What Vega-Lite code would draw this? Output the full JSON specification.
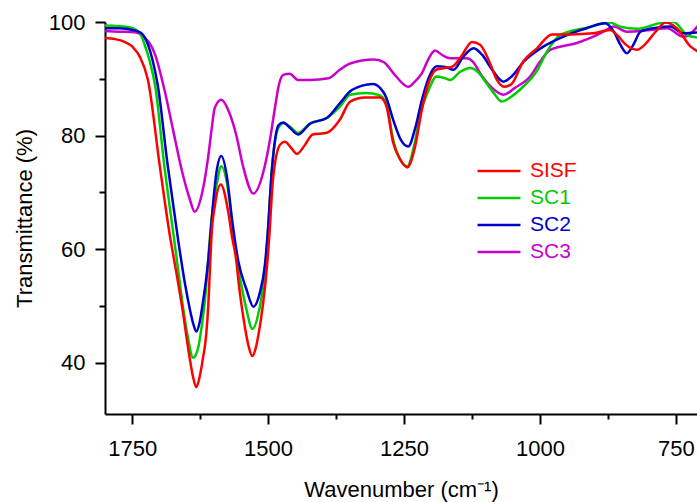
{
  "$schema": "https://vega.github.io/schema/vega-lite/v6.json",
  "autosize": {"type": "none"},
  "padding": {"left": 105, "top": 22, "right": 0, "bottom": 88},
  "width": 592,
  "height": 392,
  "background": "white",
  "config": {
    "font": "Liberation Sans",
    "view": {"stroke": null},
    "axis": {
      "grid": false,
      "domainColor": "black",
      "domainWidth": 2,
      "tickColor": "black",
      "tickWidth": 2,
      "labelColor": "black",
      "labelFont": "Liberation Sans",
      "labelFontSize": 22,
      "titleFont": "Liberation Sans",
      "titleFontSize": 22,
      "titleFontWeight": "normal",
      "titleColor": "black"
    }
  },
  "datasets": {
    "spec": [
      {"s":"SC3","w":1800,"t":98.4},{"s":"SC3","w":1773,"t":98.3},{"s":"SC3","w":1745,"t":98.2},{"s":"SC3","w":1730,"t":97.5},{"s":"SC3","w":1708,"t":94.3},{"s":"SC3","w":1690,"t":87.8},{"s":"SC3","w":1675,"t":81.1},{"s":"SC3","w":1659,"t":74.0},{"s":"SC3","w":1644,"t":68.8},{"s":"SC3","w":1635,"t":66.6},{"s":"SC3","w":1620,"t":70.5},{"s":"SC3","w":1610,"t":76.4},{"s":"SC3","w":1604,"t":81.0},{"s":"SC3","w":1598,"t":84.9},{"s":"SC3","w":1586,"t":86.3},{"s":"SC3","w":1572,"t":84.2},{"s":"SC3","w":1558,"t":79.9},{"s":"SC3","w":1546,"t":74.6},{"s":"SC3","w":1527,"t":69.8},{"s":"SC3","w":1509,"t":73.5},{"s":"SC3","w":1497,"t":79.0},{"s":"SC3","w":1488,"t":84.5},{"s":"SC3","w":1480,"t":89.0},{"s":"SC3","w":1472,"t":90.7},{"s":"SC3","w":1460,"t":90.9},{"s":"SC3","w":1445,"t":89.8},{"s":"SC3","w":1423,"t":89.8},{"s":"SC3","w":1389,"t":90.1},{"s":"SC3","w":1368,"t":91.6},{"s":"SC3","w":1349,"t":92.7},{"s":"SC3","w":1306,"t":93.4},{"s":"SC3","w":1288,"t":93.0},{"s":"SC3","w":1267,"t":90.7},{"s":"SC3","w":1242,"t":88.6},{"s":"SC3","w":1230,"t":89.5},{"s":"SC3","w":1217,"t":91.0},{"s":"SC3","w":1206,"t":93.3},{"s":"SC3","w":1193,"t":95.0},{"s":"SC3","w":1180,"t":94.2},{"s":"SC3","w":1165,"t":93.6},{"s":"SC3","w":1135,"t":93.6},{"s":"SC3","w":1123,"t":93.0},{"s":"SC3","w":1110,"t":91.0},{"s":"SC3","w":1088,"t":88.4},{"s":"SC3","w":1067,"t":87.2},{"s":"SC3","w":1046,"t":88.4},{"s":"SC3","w":1018,"t":90.4},{"s":"SC3","w":1000,"t":93.0},{"s":"SC3","w":981,"t":95.1},{"s":"SC3","w":932,"t":96.3},{"s":"SC3","w":907,"t":97.2},{"s":"SC3","w":883,"t":98.3},{"s":"SC3","w":864,"t":99.2},{"s":"SC3","w":840,"t":98.3},{"s":"SC3","w":797,"t":98.6},{"s":"SC3","w":766,"t":98.9},{"s":"SC3","w":736,"t":97.4},{"s":"SC3","w":705,"t":99.8},

      {"s":"SC1","w":1800,"t":99.4},{"s":"SC1","w":1773,"t":99.3},{"s":"SC1","w":1749,"t":98.9},{"s":"SC1","w":1736,"t":98.1},{"s":"SC1","w":1727,"t":96.0},{"s":"SC1","w":1718,"t":93.2},{"s":"SC1","w":1708,"t":88.9},{"s":"SC1","w":1690,"t":74.0},{"s":"SC1","w":1676,"t":64.0},{"s":"SC1","w":1666,"t":56.8},{"s":"SC1","w":1656,"t":49.5},{"s":"SC1","w":1647,"t":44.2},{"s":"SC1","w":1638,"t":40.9},{"s":"SC1","w":1629,"t":42.5},{"s":"SC1","w":1622,"t":46.5},{"s":"SC1","w":1616,"t":51.2},{"s":"SC1","w":1612,"t":55.9},{"s":"SC1","w":1608,"t":61.0},{"s":"SC1","w":1602,"t":67.0},{"s":"SC1","w":1595,"t":71.1},{"s":"SC1","w":1586,"t":74.6},{"s":"SC1","w":1573,"t":70.0},{"s":"SC1","w":1565,"t":63.5},{"s":"SC1","w":1556,"t":57.5},{"s":"SC1","w":1540,"t":49.5},{"s":"SC1","w":1529,"t":46.0},{"s":"SC1","w":1516,"t":49.5},{"s":"SC1","w":1506,"t":55.9},{"s":"SC1","w":1501,"t":62.0},{"s":"SC1","w":1493,"t":74.0},{"s":"SC1","w":1481,"t":81.4},{"s":"SC1","w":1472,"t":82.2},{"s":"SC1","w":1460,"t":81.6},{"s":"SC1","w":1445,"t":80.5},{"s":"SC1","w":1423,"t":82.1},{"s":"SC1","w":1392,"t":83.1},{"s":"SC1","w":1368,"t":85.1},{"s":"SC1","w":1349,"t":87.2},{"s":"SC1","w":1319,"t":87.5},{"s":"SC1","w":1298,"t":87.2},{"s":"SC1","w":1283,"t":86.0},{"s":"SC1","w":1270,"t":79.3},{"s":"SC1","w":1257,"t":75.8},{"s":"SC1","w":1244,"t":74.6},{"s":"SC1","w":1231,"t":78.4},{"s":"SC1","w":1219,"t":84.2},{"s":"SC1","w":1206,"t":87.7},{"s":"SC1","w":1190,"t":90.4},{"s":"SC1","w":1178,"t":90.2},{"s":"SC1","w":1165,"t":89.8},{"s":"SC1","w":1147,"t":91.2},{"s":"SC1","w":1128,"t":91.9},{"s":"SC1","w":1114,"t":91.2},{"s":"SC1","w":1098,"t":89.2},{"s":"SC1","w":1084,"t":87.4},{"s":"SC1","w":1070,"t":86.0},{"s":"SC1","w":1055,"t":86.7},{"s":"SC1","w":1031,"t":88.6},{"s":"SC1","w":1006,"t":91.3},{"s":"SC1","w":987,"t":94.8},{"s":"SC1","w":963,"t":97.7},{"s":"SC1","w":913,"t":99.0},{"s":"SC1","w":871,"t":99.9},{"s":"SC1","w":853,"t":99.2},{"s":"SC1","w":821,"t":98.8},{"s":"SC1","w":779,"t":99.8},{"s":"SC1","w":754,"t":100},{"s":"SC1","w":729,"t":97.7},{"s":"SC1","w":705,"t":97.2},

      {"s":"SC2","w":1800,"t":98.9},{"s":"SC2","w":1773,"t":98.9},{"s":"SC2","w":1749,"t":98.6},{"s":"SC2","w":1734,"t":98.1},{"s":"SC2","w":1723,"t":96.5},{"s":"SC2","w":1712,"t":93.1},{"s":"SC2","w":1703,"t":88.9},{"s":"SC2","w":1685,"t":75.0},{"s":"SC2","w":1666,"t":62.0},{"s":"SC2","w":1653,"t":54.0},{"s":"SC2","w":1644,"t":49.5},{"s":"SC2","w":1638,"t":47.0},{"s":"SC2","w":1632,"t":45.5},{"s":"SC2","w":1626,"t":47.1},{"s":"SC2","w":1620,"t":50.6},{"s":"SC2","w":1614,"t":54.7},{"s":"SC2","w":1609,"t":59.0},{"s":"SC2","w":1606,"t":62.5},{"s":"SC2","w":1601,"t":68.2},{"s":"SC2","w":1595,"t":73.5},{"s":"SC2","w":1586,"t":76.4},{"s":"SC2","w":1575,"t":72.3},{"s":"SC2","w":1567,"t":65.8},{"s":"SC2","w":1555,"t":58.0},{"s":"SC2","w":1540,"t":53.0},{"s":"SC2","w":1527,"t":49.9},{"s":"SC2","w":1515,"t":52.4},{"s":"SC2","w":1506,"t":57.1},{"s":"SC2","w":1501,"t":62.5},{"s":"SC2","w":1493,"t":74.0},{"s":"SC2","w":1481,"t":81.8},{"s":"SC2","w":1472,"t":82.3},{"s":"SC2","w":1460,"t":81.4},{"s":"SC2","w":1445,"t":80.2},{"s":"SC2","w":1423,"t":82.1},{"s":"SC2","w":1392,"t":83.1},{"s":"SC2","w":1368,"t":85.7},{"s":"SC2","w":1349,"t":87.8},{"s":"SC2","w":1327,"t":88.8},{"s":"SC2","w":1307,"t":89.1},{"s":"SC2","w":1294,"t":88.4},{"s":"SC2","w":1283,"t":86.8},{"s":"SC2","w":1270,"t":82.8},{"s":"SC2","w":1256,"t":79.3},{"s":"SC2","w":1242,"t":78.1},{"s":"SC2","w":1230,"t":81.1},{"s":"SC2","w":1217,"t":86.3},{"s":"SC2","w":1206,"t":89.8},{"s":"SC2","w":1190,"t":92.2},{"s":"SC2","w":1174,"t":92.1},{"s":"SC2","w":1159,"t":91.6},{"s":"SC2","w":1141,"t":93.9},{"s":"SC2","w":1122,"t":95.4},{"s":"SC2","w":1106,"t":94.2},{"s":"SC2","w":1088,"t":91.6},{"s":"SC2","w":1067,"t":89.5},{"s":"SC2","w":1051,"t":90.5},{"s":"SC2","w":1030,"t":93.0},{"s":"SC2","w":993,"t":95.7},{"s":"SC2","w":950,"t":97.7},{"s":"SC2","w":914,"t":98.9},{"s":"SC2","w":880,"t":99.8},{"s":"SC2","w":864,"t":98.3},{"s":"SC2","w":852,"t":96.0},{"s":"SC2","w":840,"t":94.5},{"s":"SC2","w":828,"t":96.0},{"s":"SC2","w":815,"t":98.3},{"s":"SC2","w":785,"t":99.0},{"s":"SC2","w":760,"t":99.2},{"s":"SC2","w":736,"t":98.0},{"s":"SC2","w":705,"t":98.2},

      {"s":"SISF","w":1800,"t":97.2},{"s":"SISF","w":1782,"t":97.0},{"s":"SISF","w":1764,"t":96.5},{"s":"SISF","w":1749,"t":95.6},{"s":"SISF","w":1736,"t":93.9},{"s":"SISF","w":1721,"t":89.8},{"s":"SISF","w":1699,"t":74.5},{"s":"SISF","w":1680,"t":62.0},{"s":"SISF","w":1668,"t":55.5},{"s":"SISF","w":1656,"t":48.5},{"s":"SISF","w":1650,"t":44.5},{"s":"SISF","w":1644,"t":40.7},{"s":"SISF","w":1638,"t":37.5},{"s":"SISF","w":1632,"t":35.7},{"s":"SISF","w":1626,"t":37.5},{"s":"SISF","w":1620,"t":40.7},{"s":"SISF","w":1614,"t":44.8},{"s":"SISF","w":1610,"t":50.1},{"s":"SISF","w":1607,"t":56.5},{"s":"SISF","w":1604,"t":62.5},{"s":"SISF","w":1598,"t":67.6},{"s":"SISF","w":1587,"t":71.4},{"s":"SISF","w":1573,"t":66.4},{"s":"SISF","w":1566,"t":62.0},{"s":"SISF","w":1560,"t":59.0},{"s":"SISF","w":1552,"t":52.4},{"s":"SISF","w":1543,"t":46.5},{"s":"SISF","w":1536,"t":43.0},{"s":"SISF","w":1529,"t":41.2},{"s":"SISF","w":1523,"t":42.5},{"s":"SISF","w":1518,"t":44.8},{"s":"SISF","w":1509,"t":50.6},{"s":"SISF","w":1503,"t":55.9},{"s":"SISF","w":1498,"t":62.0},{"s":"SISF","w":1491,"t":72.3},{"s":"SISF","w":1478,"t":78.4},{"s":"SISF","w":1469,"t":78.9},{"s":"SISF","w":1458,"t":77.9},{"s":"SISF","w":1447,"t":76.8},{"s":"SISF","w":1432,"t":78.4},{"s":"SISF","w":1418,"t":80.2},{"s":"SISF","w":1392,"t":80.5},{"s":"SISF","w":1368,"t":82.8},{"s":"SISF","w":1349,"t":86.0},{"s":"SISF","w":1322,"t":86.7},{"s":"SISF","w":1294,"t":86.7},{"s":"SISF","w":1283,"t":85.4},{"s":"SISF","w":1270,"t":78.8},{"s":"SISF","w":1257,"t":75.8},{"s":"SISF","w":1244,"t":74.4},{"s":"SISF","w":1231,"t":77.5},{"s":"SISF","w":1217,"t":84.6},{"s":"SISF","w":1206,"t":88.9},{"s":"SISF","w":1191,"t":91.6},{"s":"SISF","w":1175,"t":91.9},{"s":"SISF","w":1160,"t":92.2},{"s":"SISF","w":1143,"t":94.2},{"s":"SISF","w":1125,"t":96.5},{"s":"SISF","w":1110,"t":96.0},{"s":"SISF","w":1092,"t":92.8},{"s":"SISF","w":1079,"t":89.8},{"s":"SISF","w":1066,"t":88.6},{"s":"SISF","w":1052,"t":89.1},{"s":"SISF","w":1031,"t":93.0},{"s":"SISF","w":1005,"t":95.4},{"s":"SISF","w":978,"t":97.8},{"s":"SISF","w":944,"t":97.8},{"s":"SISF","w":902,"t":98.0},{"s":"SISF","w":871,"t":98.6},{"s":"SISF","w":856,"t":97.5},{"s":"SISF","w":843,"t":96.1},{"s":"SISF","w":821,"t":95.1},{"s":"SISF","w":806,"t":96.1},{"s":"SISF","w":788,"t":98.2},{"s":"SISF","w":769,"t":99.9},{"s":"SISF","w":748,"t":98.9},{"s":"SISF","w":723,"t":95.7},{"s":"SISF","w":705,"t":94.6}
    ]
  },
  "layer": [
    {
      "data": {"name": "spec"},
      "mark": {"type": "line", "interpolate": "monotone", "strokeWidth": 2.5, "clip": true},
      "encoding": {
        "x": {
          "field": "w", "type": "quantitative",
          "scale": {"domain": [1800, 711], "nice": false, "zero": false},
          "axis": {
            "title": "Wavenumber (cm⁻¹)",
            "values": [1750, 1625, 1500, 1375, 1250, 1125, 1000, 875, 750],
            "format": "d",
            "labelExpr": "datum.value % 250 == 0 ? datum.label : ''",
            "tickSize": {"condition": {"test": "datum.value % 250 == 0", "value": 10}, "value": 5},
            "labelPadding": 14,
            "titlePadding": 20,
            "labelFlush": false,
            "labelOverlap": false
          }
        },
        "y": {
          "field": "t", "type": "quantitative",
          "scale": {"domain": [31, 100], "nice": false, "zero": false},
          "axis": {
            "title": "Transmittance (%)",
            "values": [40, 50, 60, 70, 80, 90, 100],
            "labelExpr": "datum.value % 20 == 0 ? datum.label : ''",
            "tickSize": {"condition": {"test": "datum.value % 20 == 0", "value": 10}, "value": 6},
            "labelPadding": 10,
            "titlePadding": 12,
            "labelFlush": false,
            "labelOverlap": false
          }
        },
        "color": {
          "field": "s", "type": "nominal",
          "scale": {"domain": ["SISF", "SC1", "SC2", "SC3"], "range": ["#FF0000", "#00CC00", "#0000CC", "#CC00CC"]},
          "legend": {
            "title": null,
            "orient": "none",
            "legendX": 382,
            "legendY": 137,
            "padding": 0,
            "symbolType": "M-2,0H2",
            "symbolSize": 462,
            "symbolStrokeWidth": 2.5,
            "symbolFillColor": "transparent",
            "labelFont": "Liberation Sans",
            "labelFontSize": 21,
            "labelOffset": 19,
            "rowPadding": 5,
            "labelColor": {"expr": "scale('color', datum.value)"}
          }
        }
      }
    },
    {
      "mark": {"type": "rule", "color": "black", "strokeWidth": 2},
      "encoding": {"y": {"datum": 100}}
    }
  ]
}
